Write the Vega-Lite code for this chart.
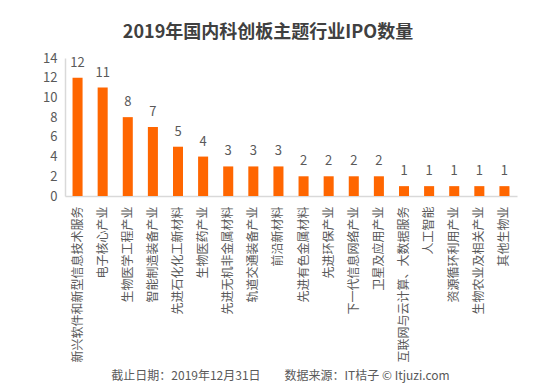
{
  "$schema": "https://vega.github.io/schema/vega-lite/v6.json",
  "width": 452,
  "height": 138,
  "autosize": {"type": "none"},
  "padding": {"left": 65, "top": 58, "right": 37, "bottom": 192},
  "background": "white",
  "title": {
    "text": "2019年国内科创板主题行业IPO数量",
    "font": "Noto Sans CJK SC",
    "fontSize": 18,
    "fontWeight": "bold",
    "color": "#404040",
    "anchor": "middle",
    "dx": -23,
    "offset": 10
  },
  "data": {
    "values": [
      {"industry": "新兴软件和新型信息技术服务", "count": 12},
      {"industry": "电子核心产业", "count": 11},
      {"industry": "生物医学工程产业", "count": 8},
      {"industry": "智能制造装备产业", "count": 7},
      {"industry": "先进石化化工新材料", "count": 5},
      {"industry": "生物医药产业", "count": 4},
      {"industry": "先进无机非金属材料", "count": 3},
      {"industry": "轨道交通装备产业", "count": 3},
      {"industry": "前沿新材料", "count": 3},
      {"industry": "先进有色金属材料", "count": 2},
      {"industry": "先进环保产业", "count": 2},
      {"industry": "下一代信息网络产业", "count": 2},
      {"industry": "卫星及应用产业", "count": 2},
      {"industry": "互联网与云计算、大数据服务", "count": 1},
      {"industry": "人工智能", "count": 1},
      {"industry": "资源循环利用产业", "count": 1},
      {"industry": "生物农业及相关产业", "count": 1},
      {"industry": "其他生物业", "count": 1}
    ]
  },
  "encoding": {
    "x": {
      "field": "industry",
      "type": "nominal",
      "sort": null,
      "scale": {"paddingInner": 0.6, "paddingOuter": 0.3},
      "axis": {
        "title": "截止日期：2019年12月31日　　数据来源：IT桔子 © Itjuzi.com",
        "titleFont": "Noto Sans CJK SC",
        "titleFontSize": 12,
        "titleFontWeight": "normal",
        "titleColor": "#595959",
        "titleX": 215,
        "titleY": 179,
        "titleBaseline": "middle",
        "labelAngle": -90,
        "labelFont": "Noto Sans CJK SC",
        "labelFontSize": 12,
        "labelColor": "#595959",
        "labelPadding": 10,
        "labelLimit": 300,
        "ticks": false,
        "domainColor": "#D9D9D9",
        "domainWidth": 1.5,
        "grid": false
      }
    },
    "y": {
      "field": "count",
      "type": "quantitative",
      "scale": {"domain": [0, 14]},
      "axis": {
        "title": null,
        "values": [0, 2, 4, 6, 8, 10, 12, 14],
        "labelFont": "Noto Sans CJK SC",
        "labelFontSize": 13,
        "labelColor": "#595959",
        "labelPadding": 8,
        "ticks": false,
        "domainColor": "#D9D9D9",
        "domainWidth": 1.5,
        "grid": false
      }
    }
  },
  "layer": [
    {"mark": {"type": "bar", "color": "#FF6600"}},
    {
      "mark": {
        "type": "text",
        "baseline": "bottom",
        "dy": -8,
        "font": "Noto Sans CJK SC",
        "fontSize": 13,
        "color": "#595959"
      },
      "encoding": {"text": {"field": "count", "type": "quantitative"}}
    }
  ],
  "config": {"view": {"stroke": null}}
}
